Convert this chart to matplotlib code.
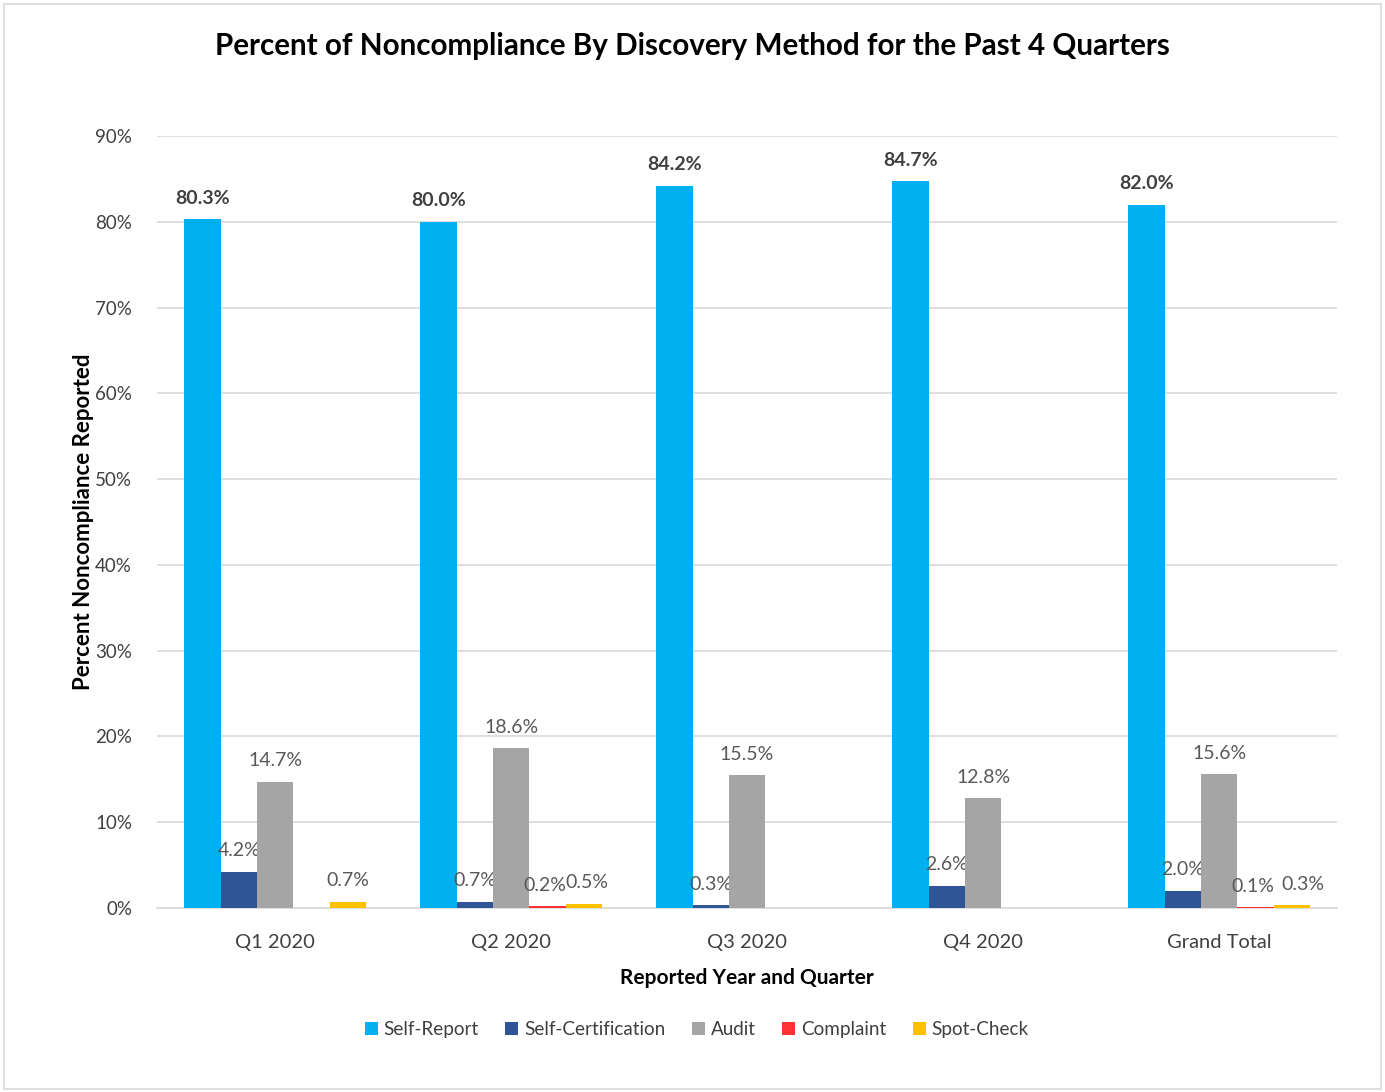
import matplotlib
matplotlib.use("Agg")
import matplotlib.pyplot as plt
import numpy as np
from matplotlib.patches import Rectangle

categories = ["Q1 2020", "Q2 2020", "Q3 2020", "Q4 2020", "Grand Total"]
series_names = ["Self-Report", "Self-Certification", "Audit", "Complaint", "Spot-Check"]
self_report = [80.3, 80.0, 84.2, 84.7, 82.0]
self_cert = [4.2, 0.7, 0.3, 2.6, 2.0]
audit = [14.7, 18.6, 15.5, 12.8, 15.6]
complaint = [0.0, 0.2, 0.0, 0.0, 0.1]
spot_check = [0.7, 0.5, 0.0, 0.0, 0.3]
colors = ["#00B0F0", "#2F5597", "#A5A5A5", "#FF3333", "#FFC000"]

# small horizontal nudges (points) for crowded labels: (series index, category index)
label_nudge = {(4, 4): 8, (3, 4): -2, (4, 1): 2, (3, 1): -2}

plt.rcParams['font.family'] = ['Lato', 'DejaVu Sans']

fig = plt.figure(figsize=(13.85, 10.92), dpi=100)
ax = fig.add_axes([0.1134, 0.1685, 0.852, 0.707])

fig.patches.append(Rectangle((0.003, 0.003), 0.994, 0.993, transform=fig.transFigure,
                             fill=False, edgecolor="#D9D9D9", linewidth=1.2))

x = np.arange(len(categories))
width = 0.154
all_series = [self_report, self_cert, audit, complaint, spot_check]
for i, (vals, name, col) in enumerate(zip(all_series, series_names, colors)):
    pos = x + (i - 2) * width
    ax.bar(pos, vals, width=width, color=col, label=name, zorder=3)
    for j, (p, v) in enumerate(zip(pos, vals)):
        if v <= 0:
            continue
        dx = label_nudge.get((i, j), 0)
        if i == 0:
            ax.annotate(f"{v:.1f}%", (p, v), xytext=(dx, 9), textcoords="offset points",
                        ha="center", va="bottom", fontsize=14, fontweight="bold",
                        color="#404040")
        else:
            ax.annotate(f"{v:.1f}%", (p, v), xytext=(dx, 9), textcoords="offset points",
                        ha="center", va="bottom", fontsize=14, color="#595959")

ax.set_xlim(-0.5, 4.5)
ax.set_ylim(0, 90)
ax.set_yticks(range(0, 91, 10))
ax.set_yticklabels([f"{t}%" for t in range(0, 91, 10)], fontsize=13.5, color="#404040")
ax.set_xticks(x)
ax.set_xticklabels(categories, fontsize=14.5, color="#404040")
ax.tick_params(axis="both", length=0)
ax.tick_params(axis="x", pad=19)
ax.tick_params(axis="y", pad=18)
ax.yaxis.grid(True, color="#D9D9D9", linewidth=1.2, zorder=0)
ax.set_axisbelow(True)
for s in ["top", "right", "left"]:
    ax.spines[s].set_visible(False)
ax.spines["bottom"].set_color("#D9D9D9")
ax.spines["bottom"].set_linewidth(1.2)

ax.set_xlabel("Reported Year and Quarter", fontsize=15, fontweight="bold", color="#000000", labelpad=12)
ax.set_ylabel("Percent Noncompliance Reported", fontsize=16, fontweight="bold", color="#000000", labelpad=1)

fig.text(0.5, 0.958, "Percent of Noncompliance By Discovery Method for the Past 4 Quarters",
         ha="center", va="center", fontsize=21.3, fontweight="bold", color="#000000")

leg = ax.legend(loc="center", bbox_to_anchor=(0.503, 0.057), bbox_transform=fig.transFigure,
                ncol=5, frameon=False, fontsize=13.6, handlelength=0.7, handleheight=0.7,
                handletextpad=0.3, columnspacing=1.4)
for t in leg.get_texts():
    t.set_color("#404040")

fig.savefig("out.png", dpi=100, facecolor="white")
